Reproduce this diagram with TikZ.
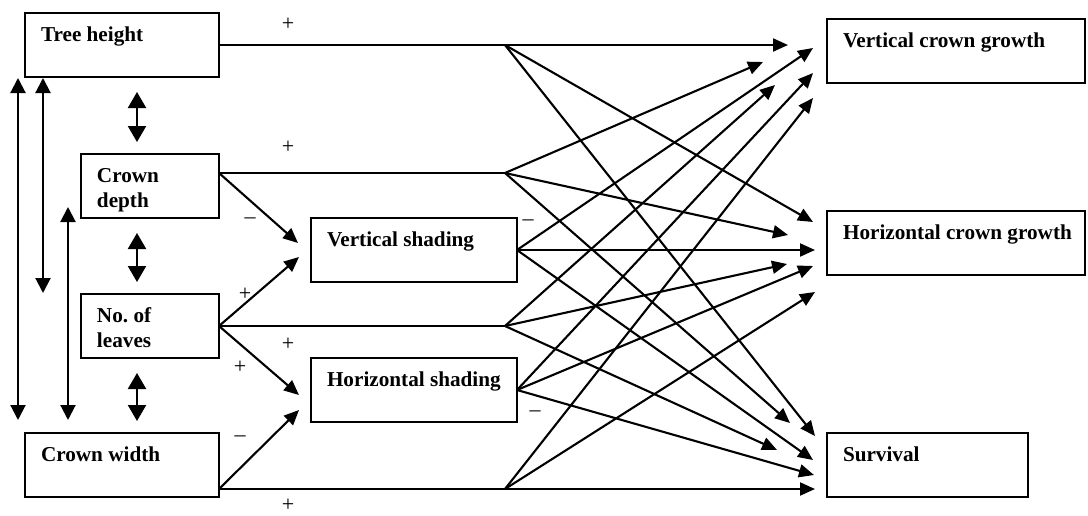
\documentclass[tikz,border=0pt]{standalone}
\usepackage{fontspec}
\setmainfont{Liberation Serif}
\usetikzlibrary{arrows.meta,calc}
\newcommand\boxtext[2]{\makebox[#1][l]{\begin{tabular}[t]{@{}l@{}}#2\end{tabular}}}
\frenchspacing
\begin{document}
\begin{tikzpicture}[x=0.5pt,y=-0.5pt,
  box/.style={draw,line width=1.05pt,rectangle,anchor=north west,inner xsep=8pt,inner ysep=0pt,outer sep=0pt,
    text height=14pt,text depth=18pt,font=\fontsize{10.6}{12.5}\selectfont\bfseries},
  link/.style={line width=1.05pt},
  arr/.style={link,-{Triangle[length=7.5pt,width=6.5pt]}},
  varr/.style={link,{Triangle[length=7.5pt,width=7.5pt]}-{Triangle[length=7.5pt,width=7.5pt]}},
  sarr/.style={link,{Triangle[length=8pt,width=9pt]}-{Triangle[length=8pt,width=9pt]}},
  sign/.style={font=\fontsize{11}{12.5}\selectfont,inner sep=0pt}
]
\useasboundingbox (0,0) rectangle (1088,515);

% boxes
\node[box] (th) at (25,13)  {\boxtext{81pt}{Tree height}};
\node[box] (cd) at (81,154) {\boxtext{53pt}{Crown\\depth}};
\node[box] (nl) at (81,294) {\boxtext{53pt}{No. of\\leaves}};
\node[box] (cw) at (25,433) {\boxtext{81pt}{Crown width}};
\node[box] (vs) at (311,218) {\boxtext{87pt}{Vertical shading}};
\node[box] (hs) at (311,358) {\boxtext{87pt}{Horizontal shading}};
\node[box] (vg) at (827,19)  {\boxtext{113pt}{Vertical crown growth}};
\node[box] (hg) at (827,211) {\boxtext{113pt}{Horizontal crown growth}};
\node[box] (sv) at (827,433) {\boxtext{84.5pt}{Survival}};

% tails and fan points
\coordinate (cdo) at ($(cd.north east)+(0,19)$);
\coordinate (cwo) at ($(cw.south east)+(0,-8)$);
\coordinate (fth) at ($(th.east)+(286,0)$);
\coordinate (fcd) at ($(cdo)+(286,0)$);
\coordinate (fnl) at ($(nl.east)+(286,0)$);
\coordinate (fcw) at ($(cwo)+(286,0)$);

% tips
\coordinate (v1) at (788,45);  \coordinate (v2) at (763,62);  \coordinate (v3) at (813,48);
\coordinate (v4) at (775,85);  \coordinate (v5) at (813,73);  \coordinate (v6) at (813,98);
\coordinate (h1) at (813,222); \coordinate (h2) at (788,235); \coordinate (h3) at (815,250);
\coordinate (h4) at (787,264); \coordinate (h5) at (813,266); \coordinate (h6) at (815,292);
\coordinate (s1) at (815,436); \coordinate (s2) at (790,423); \coordinate (s3) at (813,460);
\coordinate (s4) at (777,450); \coordinate (s5) at (814,475); \coordinate (s6) at (815,489);
\coordinate (vi1) at (298,243); \coordinate (vi2) at (299,257);
\coordinate (hi1) at (299,395); \coordinate (hi2) at (299,410);

% Tree height
\draw[arr] (th.east) -- (v1);
\draw[arr] (fth) -- (h1);
\draw[arr] (fth) -- (s1);
% Crown depth
\draw[link] (cdo) -- (fcd);
\draw[arr] (fcd) -- (v2);
\draw[arr] (fcd) -- (h2);
\draw[arr] (fcd) -- (s2);
\draw[arr] (cdo) -- (vi1);
% Vertical shading
\draw[arr] (vs.east) -- (v3);
\draw[arr] (vs.east) -- (h3);
\draw[arr] (vs.east) -- (s3);
% No. of leaves
\draw[link] (nl.east) -- (fnl);
\draw[arr] (fnl) -- (v4);
\draw[arr] (fnl) -- (h4);
\draw[arr] (fnl) -- (s4);
\draw[arr] (nl.east) -- (vi2);
\draw[arr] (nl.east) -- (hi1);
% Horizontal shading
\draw[arr] (hs.east) -- (v5);
\draw[arr] (hs.east) -- (h5);
\draw[arr] (hs.east) -- (s5);
% Crown width
\draw[arr] (cwo) -- (s6);
\draw[arr] (fcw) -- (v6);
\draw[arr] (fcw) -- (h6);
\draw[arr] (cwo) -- (hi2);

% left vertical correlations
\coordinate (a1t) at (18,78);  \coordinate (a1b) at (18,420);
\coordinate (a2t) at (43,78);  \coordinate (a2b) at (43,293);
\coordinate (a3t) at (68,207); \coordinate (a3b) at (68,420);
\draw[varr] (a1t) -- (a1b);
\draw[varr] (a2t) -- (a2b);
\draw[varr] (a3t) -- (a3b);
\coordinate (b1t) at (137,92);  \coordinate (b1b) at (137,142);
\coordinate (b2t) at (137,233); \coordinate (b2b) at (137,282);
\coordinate (b3t) at (137,373); \coordinate (b3b) at (137,421);
\draw[sarr] (b1t) -- (b1b);
\draw[sarr] (b2t) -- (b2b);
\draw[sarr] (b3t) -- (b3b);

% signs
\node[sign] (p1) at (288,24) {+};
\node[sign] (p2) at (288,147) {+};
\node[sign] (m1) at (250,221) {\textendash};
\node[sign] (m2) at (528,223) {\textendash};
\node[sign] (p3) at (245,294) {+};
\node[sign] (p4) at (288,344) {+};
\node[sign] (p5) at (240,367) {+};
\node[sign] (m3) at (240,439) {\textendash};
\node[sign] (p6) at (288,505) {+};
\node[sign] (m4) at (535,414) {\textendash};
\end{tikzpicture}
\end{document}
